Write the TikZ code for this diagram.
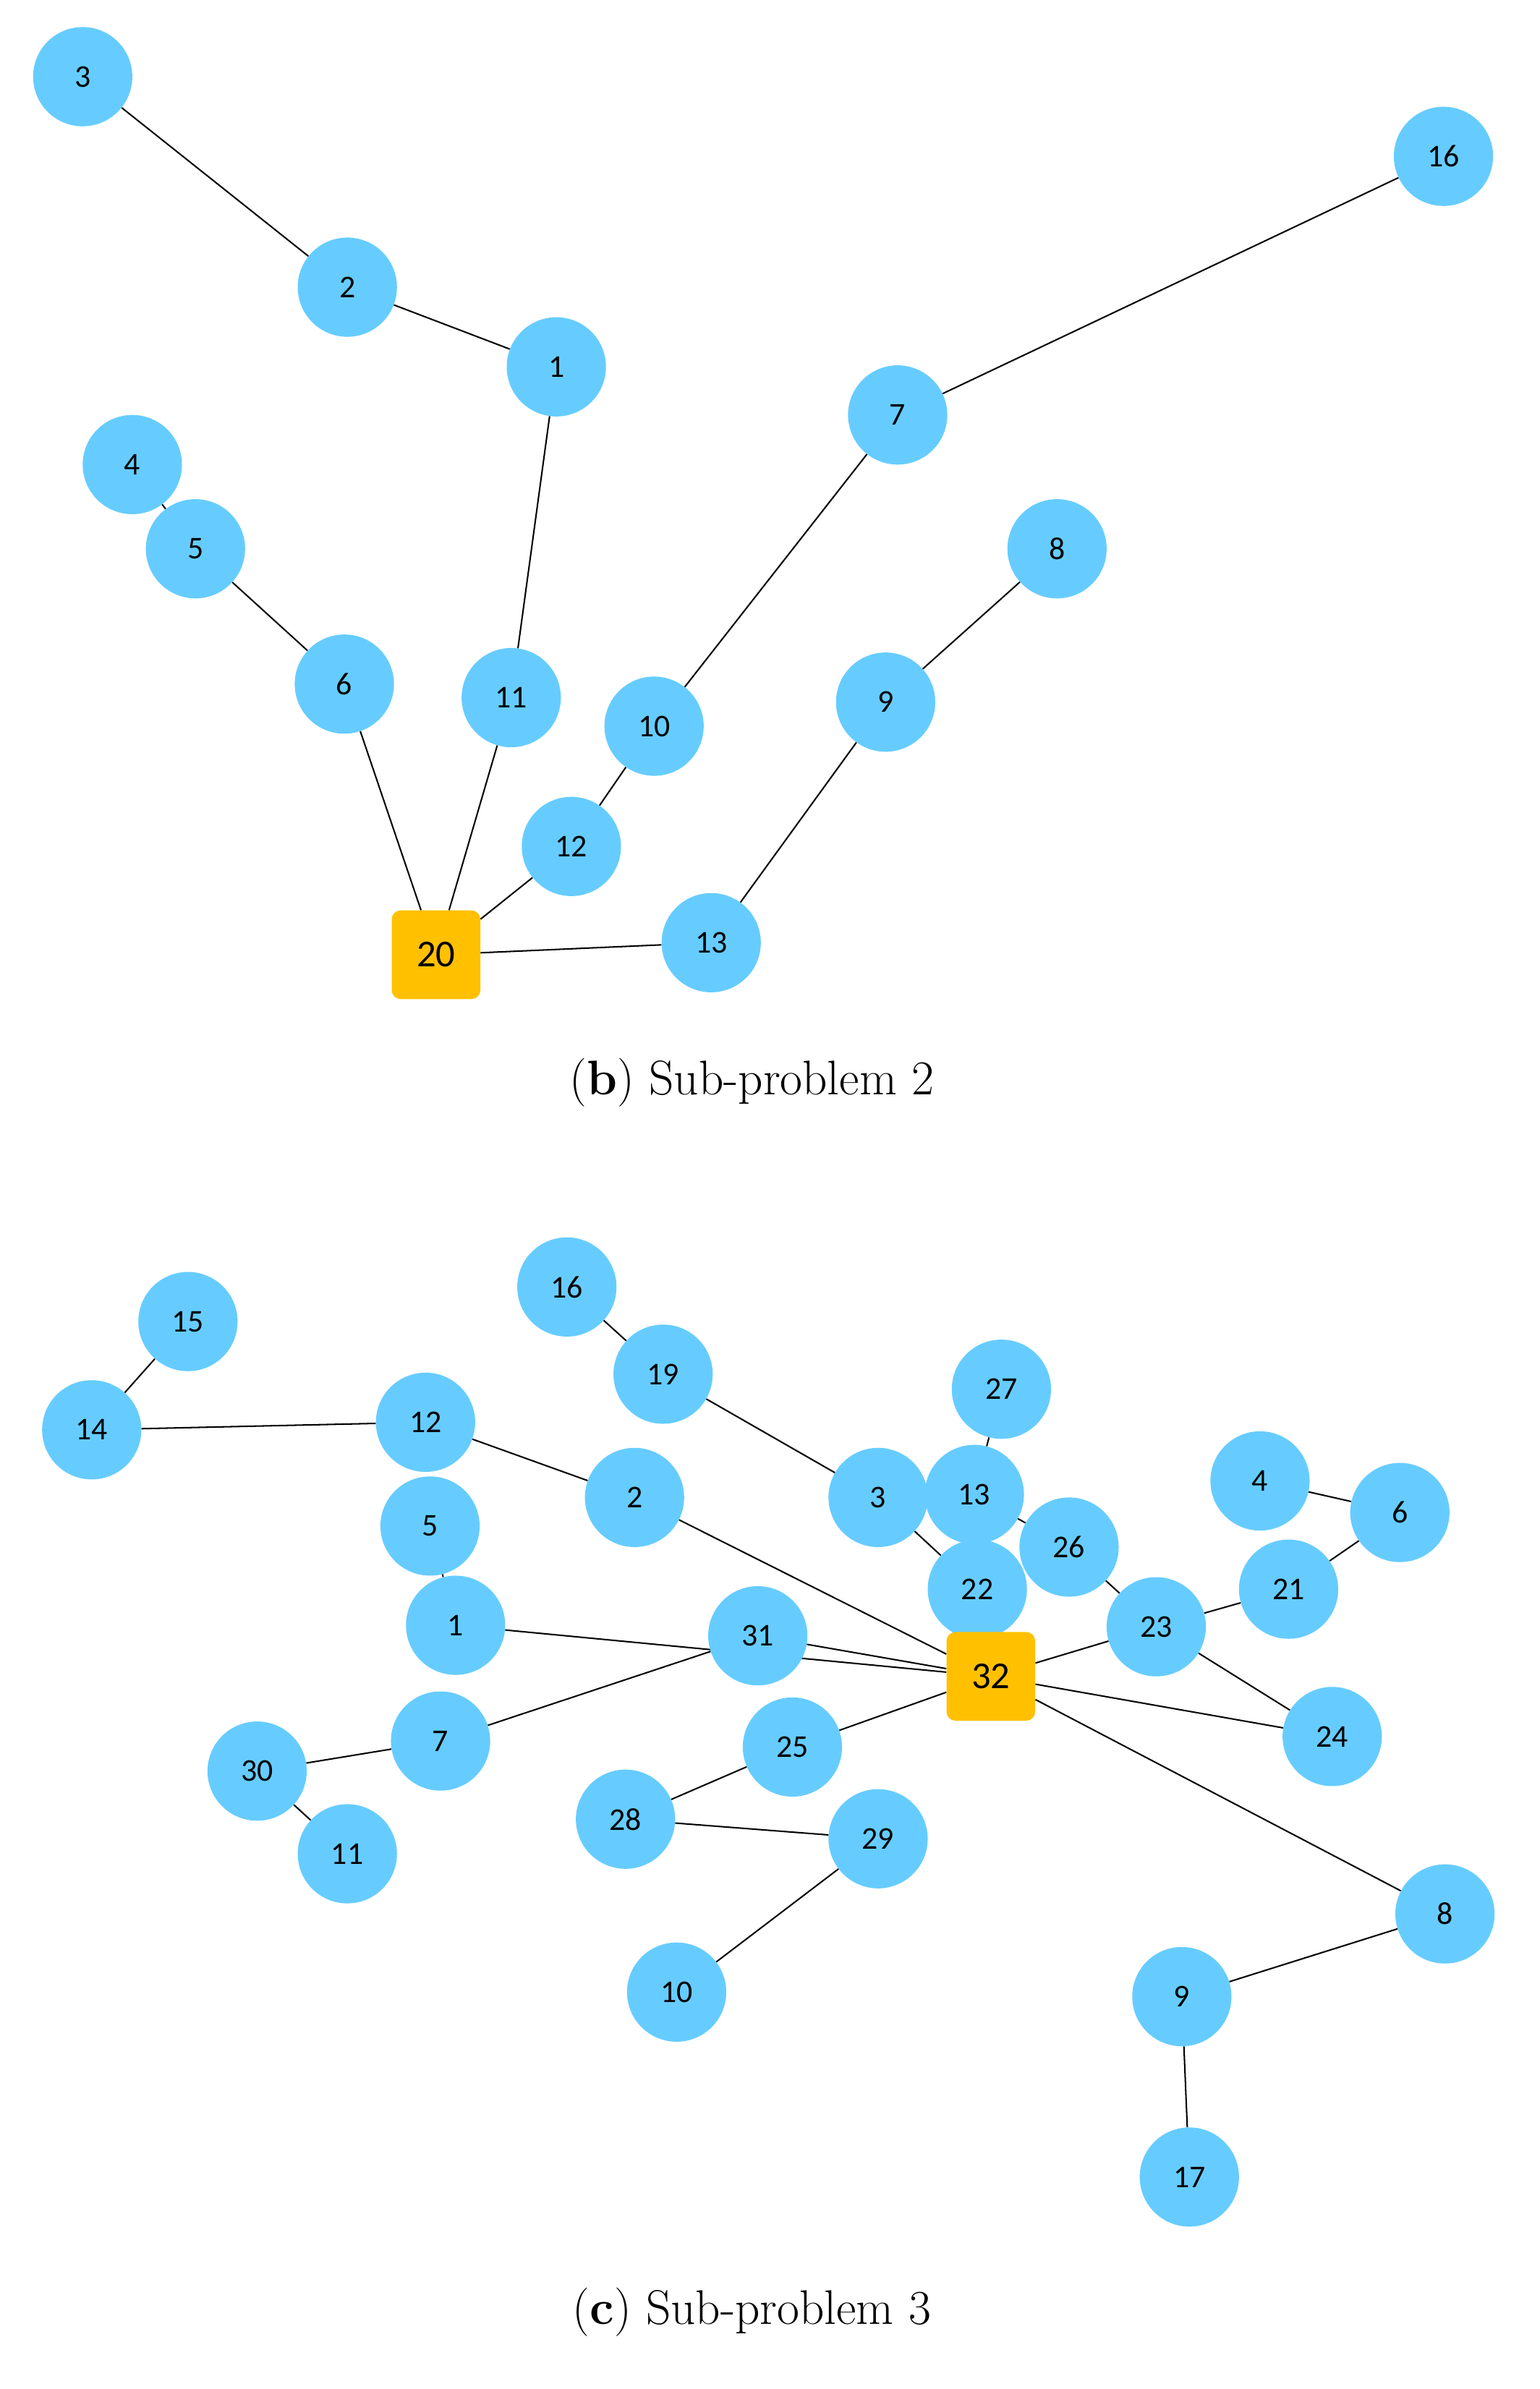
\documentclass[tikz,border=0pt]{standalone}
\usepackage{fontspec}
\newfontfamily\nodefont{Carlito}
\begin{document}
\begin{tikzpicture}[x=0.05cm,y=-0.05cm,
  v/.style={circle,fill=nodeblue,minimum size=3.3cm,inner sep=0pt,font=\nodefont\fontsize{30}{32}\selectfont},
  d/.style={rounded corners=0.3cm,fill=depot,minimum size=2.95cm,inner sep=0pt,font=\nodefont\fontsize{36}{38}\selectfont},
  e/.style={line width=1.4pt,black},
  captxt/.style={font=\fontsize{46}{50}\selectfont}]
\definecolor{nodeblue}{HTML}{66CCFF}
\definecolor{depot}{HTML}{FFC000}
\useasboundingbox (0,0) rectangle (1024,1589);
% (b)
\node[v] (b3) at (55,51) {3};
\node[v] (b2) at (231,191) {2};
\node[v] (b1) at (370,244) {1};
\node[v] (b16) at (960,104) {16};
\node[v] (b7) at (597,276) {7};
\node[v] (b4) at (88,309) {4};
\node[v] (b5) at (130,365) {5};
\node[v] (b6) at (229,455) {6};
\node[v] (b11) at (340,464) {11};
\node[v] (b10) at (435,483) {10};
\node[v] (b8) at (703,365) {8};
\node[v] (b9) at (589,467) {9};
\node[v] (b12) at (380,563) {12};
\node[v] (b13) at (473,627) {13};
\node[d] (b20) at (290,635) {20};
\foreach \a/\b in {b3/b2,b2/b1,b1/b11,b11/b20,b16/b7,b7/b10,b10/b12,b12/b20,b4/b5,b5/b6,b6/b20,b8/b9,b9/b13,b13/b20}
  \draw[e] (\a) -- (\b);
\node[captxt] (capb) at (500,720) {(\textbf{b}) Sub-problem 2};
% (c)
\node[v] (c15) at (125,879) {15};
\node[v] (c14) at (61,951) {14};
\node[v] (c12) at (283,946) {12};
\node[v] (c16) at (377,856) {16};
\node[v] (c19) at (441,914) {19};
\node[v] (c2) at (422,996) {2};
\node[v] (c5) at (286,1015) {5};
\node[v] (c1) at (303,1081) {1};
\node[v] (c27) at (666,924) {27};
\node[v] (c3) at (584,996) {3};
\node[v] (c26) at (711,1029) {26};
\node[v] (c13) at (648,994) {13};
\node[v] (c22) at (650,1057) {22};
\node[v] (c4) at (838,985) {4};
\node[v] (c6) at (931,1006) {6};
\node[v] (c21) at (857,1057) {21};
\node[v] (c23) at (769,1082) {23};
\node[v] (c24) at (886,1155) {24};
\node[v] (c7) at (293,1158) {7};
\node[v] (c30) at (171,1178) {30};
\node[v] (c11) at (231,1233) {11};
\node[v] (c25) at (527,1162) {25};
\node[v] (c28) at (416,1210) {28};
\node[v] (c29) at (584,1223) {29};
\node[v] (c10) at (450,1325) {10};
\node[v] (c8) at (961,1273) {8};
\node[v] (c9) at (786,1328) {9};
\node[v] (c17) at (791,1448) {17};
\node[d] (c32) at (659,1115) {32};
\draw[e] (c1) -- (c32);
\node[v] (c31) at (504,1088) {31};
\foreach \a/\b in {c15/c14,c14/c12,c12/c2,c2/c32,c16/c19,c19/c3,c3/c22,c27/c13,c13/c26,c26/c23,c23/c32,c23/c21,c21/c6,c6/c4,c23/c24,c5/c1,c31/c32,c7/c31,c32/c25,c25/c28,c28/c29,c29/c10,c32/c24,c32/c8,c8/c9,c9/c17,c30/c7,c30/c11}
  \draw[e] (\a) -- (\b);
\node[captxt] (capc) at (500,1538) {(\textbf{c}) Sub-problem 3};
\end{tikzpicture}
\end{document}
